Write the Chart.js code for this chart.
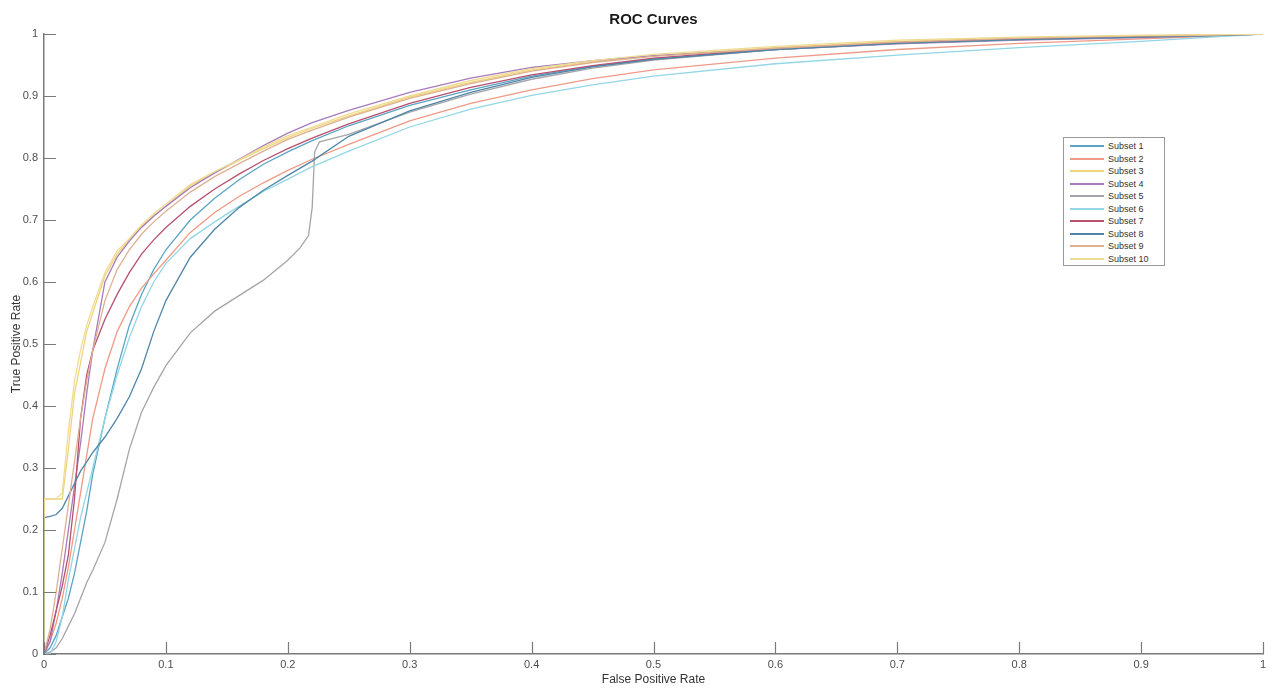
<!DOCTYPE html>
<html>
<head>
<meta charset="utf-8">
<title>ROC Curves</title>
<script src="https://cdn.jsdelivr.net/npm/chart.js@4.4.1/dist/chart.umd.min.js"></script>
<style>
  html, body { margin: 0; padding: 0; background: #fff; }
  #wrap { position: relative; width: 1274px; height: 690px; }
  #legend {
    position: absolute; left: 1063px; top: 137px; width: 102px; height: 129px;
    box-sizing: border-box; border: 1px solid #9a9a9a; background: #fff;
    padding-top: 2px; font: 9px "Liberation Sans", Arial, sans-serif; color: #333;
  }
  #legend .row { height: 12.5px; display: flex; align-items: center; }
  #legend .swatch { width: 34px; height: 2px; margin-left: 6px; margin-right: 4px; }
</style>
</head>
<body>
<div id="wrap">
  <canvas id="roc" width="1274" height="690"></canvas>
  <div id="legend"></div>
</div>
<script>
// false positive rate grid shared by most subsets
const fpr = [0, 0, 0.005, 0.01, 0.015, 0.02, 0.025, 0.03, 0.035, 0.04, 0.05, 0.06, 0.07, 0.08, 0.09, 0.1,
  0.12, 0.14, 0.16, 0.18, 0.2, 0.22, 0.25, 0.3, 0.35, 0.4, 0.45, 0.5, 0.6, 0.7, 0.8, 0.9, 0.95, 1];

const tpr1 = [0, 0, 0.01, 0.03, 0.06, 0.09, 0.13, 0.18, 0.23, 0.29, 0.38, 0.46, 0.53, 0.58, 0.62, 0.652,
  0.70, 0.735, 0.765, 0.79, 0.81, 0.828, 0.852, 0.885, 0.91, 0.932, 0.948, 0.96, 0.975, 0.986, 0.992, 0.996, 0.998, 1];
const tpr2 = [0, 0, 0.02, 0.05, 0.09, 0.14, 0.2, 0.26, 0.32, 0.38, 0.46, 0.52, 0.56, 0.59, 0.613, 0.635,
  0.68, 0.712, 0.738, 0.76, 0.78, 0.798, 0.822, 0.86, 0.888, 0.91, 0.928, 0.942, 0.961, 0.975, 0.985, 0.992, 0.996, 1];
const tpr3 = [0, 0.25, 0.25, 0.25, 0.25, 0.33, 0.42, 0.47, 0.52, 0.55, 0.61, 0.645, 0.668, 0.69, 0.707, 0.722,
  0.755, 0.776, 0.796, 0.815, 0.833, 0.848, 0.868, 0.898, 0.922, 0.942, 0.955, 0.965, 0.978, 0.988, 0.994, 0.997, 0.998, 1];
const tpr4 = [0, 0, 0.02, 0.07, 0.13, 0.2, 0.27, 0.34, 0.42, 0.49, 0.6, 0.64, 0.666, 0.688, 0.706, 0.722,
  0.752, 0.776, 0.798, 0.82, 0.84, 0.857, 0.877, 0.906, 0.929, 0.946, 0.957, 0.965, 0.975, 0.984, 0.99, 0.994, 0.997, 1];
// subset 5 has its own grid (the step near 0.22)
const fpr5 = [0, 0.005, 0.01, 0.015, 0.02, 0.025, 0.03, 0.035, 0.04, 0.05, 0.06, 0.07, 0.08, 0.09, 0.1,
  0.12, 0.14, 0.16, 0.18, 0.2, 0.21, 0.217, 0.22, 0.222, 0.226, 0.25, 0.3, 0.35, 0.4, 0.45, 0.5, 0.6, 0.7, 0.8, 0.9, 0.95, 1];
const tpr5 = [0, 0.003, 0.01, 0.025, 0.045, 0.065, 0.09, 0.115, 0.135, 0.18, 0.25, 0.33, 0.39, 0.43, 0.465,
  0.518, 0.553, 0.578, 0.603, 0.635, 0.655, 0.675, 0.72, 0.81, 0.826, 0.838, 0.874, 0.903, 0.927, 0.945, 0.958, 0.975, 0.985, 0.991, 0.995, 0.997, 1];
const tpr6 = [0, 0, 0, 0.02, 0.06, 0.12, 0.17, 0.22, 0.26, 0.3, 0.38, 0.45, 0.51, 0.56, 0.6, 0.63,
  0.67, 0.697, 0.722, 0.746, 0.766, 0.786, 0.811, 0.85, 0.879, 0.901, 0.918, 0.932, 0.952, 0.966, 0.978, 0.988, 0.994, 1];
const tpr7 = [0, 0, 0.03, 0.07, 0.11, 0.16, 0.25, 0.38, 0.45, 0.49, 0.54, 0.58, 0.615, 0.645, 0.668, 0.688,
  0.722, 0.75, 0.774, 0.796, 0.815, 0.832, 0.855, 0.888, 0.914, 0.934, 0.949, 0.961, 0.976, 0.986, 0.992, 0.996, 0.998, 1];
const tpr8 = [0, 0.22, 0.222, 0.225, 0.235, 0.255, 0.275, 0.295, 0.31, 0.325, 0.35, 0.38, 0.415, 0.46, 0.52, 0.57,
  0.64, 0.685, 0.72, 0.748, 0.772, 0.795, 0.835, 0.876, 0.906, 0.93, 0.947, 0.959, 0.975, 0.985, 0.991, 0.995, 0.997, 1];
const tpr9 = [0, 0, 0.04, 0.1, 0.17, 0.24, 0.31, 0.38, 0.44, 0.49, 0.57, 0.62, 0.652, 0.677, 0.697, 0.714,
  0.745, 0.77, 0.791, 0.811, 0.83, 0.845, 0.866, 0.896, 0.92, 0.94, 0.954, 0.964, 0.977, 0.987, 0.993, 0.997, 0.998, 1];
const tpr10 = [0, 0.25, 0.25, 0.25, 0.26, 0.36, 0.44, 0.49, 0.53, 0.56, 0.615, 0.65, 0.67, 0.692, 0.71, 0.726,
  0.757, 0.778, 0.797, 0.818, 0.836, 0.85, 0.871, 0.9, 0.925, 0.944, 0.957, 0.967, 0.98, 0.99, 0.995, 0.998, 0.999, 1];

const subsetNames = ['Subset 1', 'Subset 2', 'Subset 3', 'Subset 4', 'Subset 5',
                     'Subset 6', 'Subset 7', 'Subset 8', 'Subset 9', 'Subset 10'];
const tickValues = [0, 0.1, 0.2, 0.3, 0.4, 0.5, 0.6, 0.7, 0.8, 0.9, 1];

const xs = [fpr, fpr, fpr, fpr, fpr5, fpr, fpr, fpr, fpr, fpr];
const ys = [tpr1, tpr2, tpr3, tpr4, tpr5, tpr6, tpr7, tpr8, tpr9, tpr10];
const colors = ['#5ba4c4', '#ee9a86', '#f0d47a', '#a77bbd', '#a6a4a8',
                '#93d6e6', '#b8506e', '#4f86a8', '#ddb092', '#efdc94'];
const axisColor = '#7a7a7a';
const font = '"Liberation Sans", Arial, sans-serif';

const datasets = subsetNames.map((name, i) => ({
  label: name,
  data: xs[i].map((x, k) => ({x: x, y: ys[i][k]})),
  borderColor: colors[i],
  borderWidth: 1.3,
  pointRadius: 0,
  tension: 0,
  fill: false,
  order: subsetNames.length - i
}));

// MATLAB style: ticks point into the plot
const inwardTicks = {
  id: 'inwardTicks',
  afterDatasetsDraw(chart) {
    const {ctx, chartArea: a, scales: {x, y}} = chart;
    ctx.save();
    ctx.strokeStyle = axisColor;
    ctx.lineWidth = 1.2;
    ctx.beginPath();
    tickValues.forEach(v => {
      const px = Math.round(x.getPixelForValue(v)) + 0.5;
      ctx.moveTo(px, a.bottom); ctx.lineTo(px, a.bottom - 12);
      const py = Math.round(y.getPixelForValue(v)) + 0.5;
      ctx.moveTo(a.left, py); ctx.lineTo(a.left + 12, py);
    });
    ctx.stroke();
    ctx.restore();
  }
};

const tickSetup = scale => { scale.ticks = tickValues.map(v => ({value: v})); };

const chart = new Chart(document.getElementById('roc'), {
  type: 'line',
  data: { datasets: datasets },
  options: {
    responsive: false,
    animation: false,
    devicePixelRatio: 1,
    layout: { padding: { top: 0, right: 11, bottom: 0, left: 0 } },
    plugins: {
      legend: { display: false },
      tooltip: { enabled: false },
      title: {
        display: true,
        text: 'ROC Curves',
        fullSize: false,
        color: '#1a1a1a',
        font: { family: font, size: 15, weight: 'bold', lineHeight: 1.2 },
        padding: { top: 11, bottom: 5 }
      }
    },
    scales: {
      x: {
        type: 'linear', min: 0, max: 1,
        afterBuildTicks: tickSetup,
        afterFit: s => { s.height = 36; },
        grid: { display: true, drawOnChartArea: false, drawTicks: false },
        border: { display: true, color: axisColor, width: 1.5 },
        ticks: { padding: 4, color: '#4d4d4d', font: { family: font, size: 11 },
                 maxRotation: 0, autoSkip: false, callback: v => String(+v.toFixed(1)) },
        title: { display: true, text: 'False Positive Rate', color: '#333',
                 font: { family: font, size: 12 }, padding: { top: 0, bottom: 3 } }
      },
      y: {
        type: 'linear', min: 0, max: 1,
        afterBuildTicks: tickSetup,
        afterFit: s => { s.width = 44; },
        grid: { display: true, drawOnChartArea: false, drawTicks: false },
        border: { display: true, color: axisColor, width: 1.5 },
        ticks: { padding: 6, color: '#4d4d4d', font: { family: font, size: 11 },
                 autoSkip: false, callback: v => String(+v.toFixed(1)) },
        title: { display: true, text: 'True Positive Rate', color: '#333',
                 font: { family: font, size: 12 }, padding: { top: 9, bottom: 0 } }
      }
    }
  },
  plugins: [inwardTicks]
});

// legend box drawn as html from the chart's datasets
const legendBox = document.getElementById('legend');
chart.data.datasets.forEach(ds => {
  const row = document.createElement('div');
  row.className = 'row';
  const sw = document.createElement('span');
  sw.className = 'swatch';
  sw.style.background = ds.borderColor;
  const txt = document.createElement('span');
  txt.textContent = ds.label;
  row.appendChild(sw);
  row.appendChild(txt);
  legendBox.appendChild(row);
});
</script>
</body>
</html>
